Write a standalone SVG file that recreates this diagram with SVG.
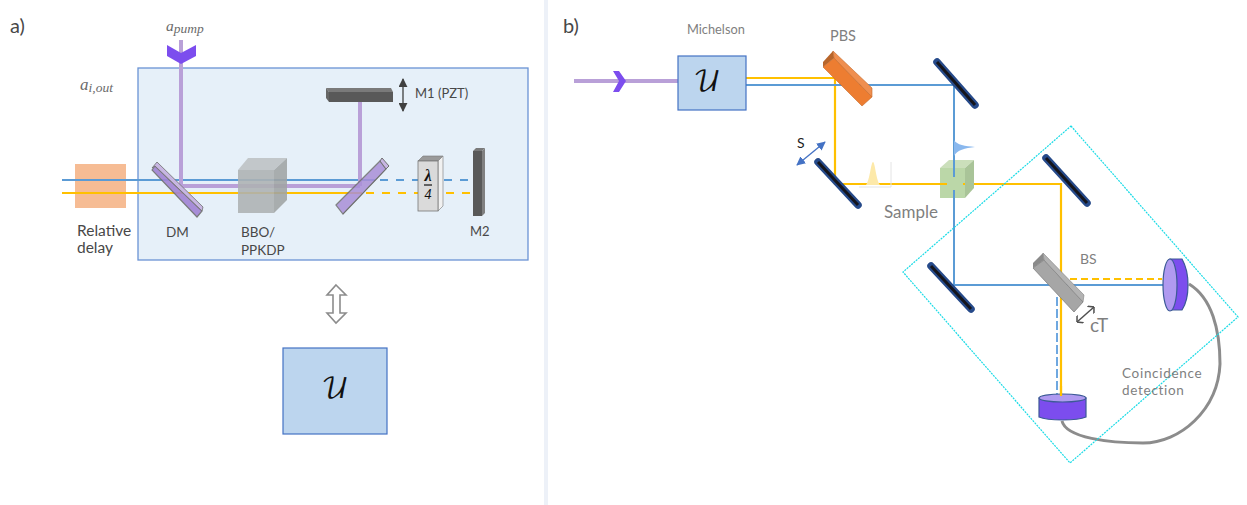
<svg xmlns="http://www.w3.org/2000/svg" width="1247" height="505" viewBox="0 0 1247 505">
<style>
text{font-family:"Lato","Open Sans","Liberation Sans",sans-serif;fill:#484848}
.g{fill:#7f7f7f}
.m{font-family:"Liberation Serif","DejaVu Serif",serif;font-style:italic;fill:#6b6b6b}
.u{font-family:"DejaVu Math TeX Gyre","Liberation Serif",serif;fill:#111;font-size:28px}
.b{fill:none;stroke:#5b9bd5;stroke-width:2}
.y{fill:none;stroke:#ffc000;stroke-width:2.2}
.d{stroke-dasharray:8 8}
.p{fill:none;stroke:#b9a0d8;stroke-width:4}
.mir{fill:none;stroke:#264a8a;stroke-width:7.500;stroke-linecap:round}
.mi{fill:none;stroke:#15151c;stroke-width:3}
.ch{fill:#7c4dee}
.box{fill:#bcd5ee;stroke:#4472c4;stroke-width:1.2}
.det{fill:#7c4dee;stroke:#3c5a96;stroke-width:1.2}
.dl{fill:#b09af0;stroke:#3c5a96;stroke-width:1.2}
</style>
<defs>
<marker id="ak" viewBox="0 0 10 10" refX="9" refY="5" markerWidth="9" markerHeight="9" markerUnits="userSpaceOnUse" orient="auto-start-reverse"><path d="M0 0L10 5L0 10Z" fill="#404040"/></marker>
<marker id="ab" viewBox="0 0 10 10" refX="9" refY="5" markerWidth="9" markerHeight="9" markerUnits="userSpaceOnUse" orient="auto-start-reverse"><path d="M0 0L10 5L0 10Z" fill="#4472c4"/></marker>
<marker id="ao" viewBox="0 0 10 10" refX="9.500" refY="5" markerWidth="10" markerHeight="10" markerUnits="userSpaceOnUse" orient="auto-start-reverse"><path d="M5 0L9.500 5L5 10" fill="none" stroke="#505050" stroke-width="1.5"/></marker>
</defs>

<rect id="divider" x="544" y="0" width="4" height="505" fill="#edf1f8"/>
<text x="10" y="33" font-size="20">a)</text>
<text x="563" y="33" font-size="20">b)</text>

<g id="michelson-box"><rect x="138" y="68" width="390" height="192" fill="#e6f0f9" stroke="#6a93d4" stroke-width="1.3"/></g>
<g id="delay"><rect x="75" y="164" width="51" height="44" fill="#f6bc94"/>
<text x="77" y="236" font-size="15.500">Relative</text><text x="77" y="253" font-size="15.500">delay</text></g>

<g id="connectors">
<path class="b" d="M62 180H375"/><path class="b d" d="M380 180H468"/>
<path class="y" d="M62 193H362"/><path class="y d" d="M366 193H471"/>
<path class="p" d="M181 40V186H360"/><path class="p" d="M360 102V186"/>
<path class="p" d="M574 81H678"/>
<path class="y" d="M744 78H835V184H947M963 184H1061V395"/>
<path class="b" d="M744 85H954V177M954 190V285M950 285H1163"/>
<path class="b" style="stroke-dasharray:9 3;stroke:#6fa8e0" d="M1057 297V396"/>
<path class="y" style="stroke-dasharray:7 4" d="M1070 279H1162"/>
<path d="M1189 284C1212 298 1220 330 1220 364C1218 410 1180 443 1143 443C1110 443 1066 438 1062 421" fill="none" stroke="#8c8c8c" stroke-width="3"/>
</g>

<g id="pump"><path class="ch" d="M167 45L181 53L196 45V56L181 64L167 56Z"/>
<text class="m" x="166" y="31" font-size="15.500">a<tspan dy="2" font-size="13.500">pump</tspan></text></g>
<text class="m" x="80" y="90" font-size="17">a<tspan dy="2" font-size="13.500">i,out</tspan></text>

<g id="dm"><path d="M152 170L155 166L202 211L197 217Z" fill="#a183d4" opacity=".9" stroke="#6f6f6f" stroke-width="1.200"/><path d="M152 168L157 162L203 207L202 211L155 166Z" fill="#c7b6e2" stroke="#6f6f6f" stroke-width=".8"/>
<text x="166" y="237" font-size="13.500">DM</text></g>

<g id="crystal" opacity=".88"><path d="M238 170H274V213H238Z" fill="#aeb2b3"/><path d="M238 170L248 158H287L274 170Z" fill="#bec2c4"/><path d="M274 170L287 158V200L274 213Z" fill="#a0a4a4"/></g>
<g id="crystal-label"><text x="241" y="237" font-size="13.500">BBO/</text><text x="241" y="255" font-size="13.500">PPKDP</text></g>

<g id="dm2"><path d="M336 205L380 161L386 169L343 214Z" fill="#a98fd8" opacity=".85" stroke="#6f6f6f" stroke-width="1.200"/><path d="M380 161L382 158L389 166L386 169Z" fill="#c7b6e2" stroke="#6f6f6f" stroke-width="1"/><path d="M343 214L386 169L389 166" fill="none" stroke="#6f6f6f" stroke-width="1"/></g>

<g id="m1"><path d="M326 88H391L393 92H329Z" fill="#7a7a7a"/><path d="M326 88L329 92V102L326 98Z" fill="#666"/><rect x="329" y="92" width="64" height="10" fill="#595959"/>
<path d="M403 79V111" fill="none" stroke="#404040" stroke-width="1.300" marker-start="url(#ak)" marker-end="url(#ak)"/>
<text x="415" y="98" font-size="13">M1 (PZT)</text></g>

<g id="qwp"><path d="M418 161L423 156H443L438 161Z" fill="#9a9a9a" stroke="#777" stroke-width=".6"/><path d="M438 161L443 156V206L438 211Z" fill="#f1f1f1" stroke="#777" stroke-width=".6"/><rect x="418" y="161" width="20" height="50" fill="#dadada" stroke="#777" stroke-width=".8"/>
<text x="428" y="181" font-size="16" text-anchor="middle" style="font-family:'Liberation Serif',serif;fill:#111;font-weight:bold;font-style:italic">λ</text><path d="M424 185H432" stroke="#111" stroke-width="1.200"/><text x="428" y="199" font-size="14" text-anchor="middle" style="font-family:'Liberation Serif',serif;fill:#111;font-style:italic">4</text></g>

<g id="m2"><path d="M473 151L476 148H485L482 151Z" fill="#7a7a7a"/><path d="M482 151L485 148V213L482 216Z" fill="#808080"/><rect x="473" y="151" width="9" height="65" fill="#595959"/>
<text x="470" y="236" font-size="13">M2</text></g>

<path id="equiv" d="M336 285L346 295H340V313H346L336 323L327 313H333V295H327Z" fill="#fff" stroke="#8c8c8c" stroke-width="1.600"/>
<g id="unitary-a"><rect class="box" x="283" y="348" width="104" height="86"/><text class="u" x="335" y="398" text-anchor="middle">𝒰</text></g>

<g id="unitary-b"><rect class="box" x="678" y="56" width="68" height="54"/><text class="u" x="707" y="91" text-anchor="middle">𝒰</text>
<text class="g" x="687" y="34" font-size="12.800">Michelson</text></g>
<path id="chevron-b" class="ch" d="M613 71H619L626 81L619 92H613L619 81Z"/>

<g id="pbs"><path d="M823 67L834 58L872 97L862 106Z" fill="#ed7d31" stroke="#c46a2a" stroke-width=".6"/><path d="M833 51L872 88V97L834 58Z" fill="#ef8f50" stroke="#c46a2a" stroke-width=".6"/><path d="M823 62L833 51L834 58L823 67Z" fill="#b8652a"/>
<text class="g" x="830" y="41" font-size="14.500">PBS</text></g>

<g id="mirror-s"><path class="mir" d="M818 162L858 205"/><path class="mi" d="M818 162L858 205"/>
<path d="M797 165L825 142" fill="none" stroke="#4472c4" stroke-width="1.300" marker-start="url(#ab)" marker-end="url(#ab)"/>
<text x="797" y="148" font-size="14" style="fill:#222">S</text></g>
<g id="mirror-top"><path class="mir" d="M937 62L975 105"/><path class="mi" d="M937 62L975 105"/></g>
<g id="mirror-right"><path class="mir" d="M1046 158L1087 203"/><path class="mi" d="M1046 158L1087 203"/></g>
<g id="mirror-left"><path class="mir" d="M931 266L971 309"/><path class="mi" d="M931 266L971 309"/></g>

<path id="pulse-y" d="M866 185C870 180 871 162 873 162C875 162 876 180 880 185Z" fill="#fde9a9"/>
<path d="M859 187H891V162" fill="none" stroke="#e4e4e4" stroke-width="1"/>
<path id="pulse-b" d="M954 140C957 145 965 146 975 147C965 148 957 150 954 156Z" fill="#8ab8ee"/>

<g id="sample"><path d="M940 168L949 160H974L965 168Z" fill="#cbdfbb"/><path d="M965 168L974 160V188L965 198Z" fill="#a9c498"/><path d="M940 168H965V198H940Z" fill="#b7d5a3" opacity=".95"/>
<path class="b" d="M954 160V177M954 190V198"/><path class="y" d="M940 184H947M963 184H965"/>
<text class="g" x="884" y="218" font-size="17">Sample</text></g>

<path id="detection-region" d="M1071 126L1238 317L1070 463L903 272Z" fill="none" stroke="#19dbe6" stroke-width="1.200" stroke-dasharray="2 1"/>

<g id="bs"><path d="M1033 268L1044 260L1083 302L1074 312Z" fill="#a6a6a6" stroke="#808080" stroke-width=".8"/><path d="M1043 253L1084 295L1083 302L1044 260Z" fill="#b3b3b3" stroke="#808080" stroke-width=".6"/><path d="M1033 263L1043 253L1044 260L1033 268Z" fill="#8a8a8a"/>
<text class="g" x="1080" y="264" font-size="14">BS</text>
<path d="M1077 322L1094 307" fill="none" stroke="#505050" stroke-width="1.500" marker-start="url(#ao)" marker-end="url(#ao)"/>
<text class="g" x="1090" y="332" font-size="19">cT</text></g>

<g id="detector-right"><path class="det" d="M1170 259H1182C1186 266 1188 274 1188 285C1188 296 1186 304 1182 310H1170Z"/><ellipse class="dl" cx="1170" cy="285" rx="7" ry="26"/></g>
<g id="detector-bottom"><path class="det" d="M1039 398V417C1048 421 1077 421 1086 417V398Z"/><ellipse class="dl" cx="1062.500" cy="398" rx="23.500" ry="4"/><path class="y" d="M1061 386V396"/></g>
<g id="coincidence"><text class="g" x="1122" y="378" font-size="13.500" letter-spacing=".7">Coincidence</text><text class="g" x="1122" y="395" font-size="13.500" letter-spacing=".7">detection</text></g>
</svg>
